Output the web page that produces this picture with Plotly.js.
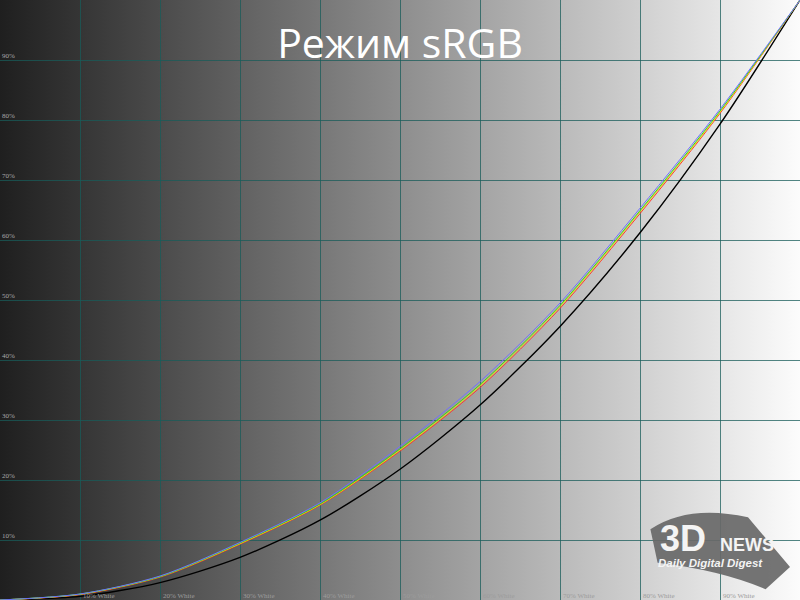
<!DOCTYPE html>
<html>
<head>
<meta charset="utf-8">
<script src="https://cdn.plot.ly/plotly-3.0.1.min.js"></script>
<style>
  html, body { margin: 0; padding: 0; background: #ffffff; }
  #chart { width: 800px; height: 600px; background: linear-gradient(to right, #1f1f1f, #fcfcfc); }
</style>
</head>
<body>
<div id="chart"></div>
<script>
// Input signal level, % white
const xPct = [0, 10, 20, 30, 40, 50, 60, 70, 80, 90, 100];
// Reference gamma curve (black)
const refGamma = [0, 0.6, 2.9, 7.1, 13.3, 21.8, 32.5, 45.6, 61.2, 79.3, 100];
// Measured channel curves
const redCh    = [0, 0.9, 3.8, 9.3, 15.8, 24.8, 35.4, 48.6, 64.4, 81.1, 100];
const yellowCh = [0, 0.95, 3.9, 9.4, 15.9, 25.0, 35.7, 48.9, 64.7, 81.3, 100];
const greenCh  = [0, 1.0, 3.9, 9.5, 16.0, 25.2, 35.9, 49.1, 64.9, 81.5, 100];
const blueCh   = [0, 1.0, 4.0, 9.6, 16.2, 25.6, 36.4, 49.5, 65.3, 81.8, 100];

const tickVals = [10, 20, 30, 40, 50, 60, 70, 80, 90];
const yTickText = ['10%', '20%', '30%', '40%', '50%', '60%', '70%', '80%', '90%'];
const xTickText = ['10% White', '20% White', '30% White', '40% White', '50% White', '60% White', '70% White', '80% White', '90% White'];

const titleText = 'Режим sRGB';

function curve(y, color, width, name) {
  return { x: xPct, y: y, type: 'scatter', mode: 'lines', name: name,
           line: { color: color, width: width, shape: 'spline', smoothing: 0.8 },
           hoverinfo: 'skip' };
}

const data = [
  curve(refGamma, '#000000', 1.4, 'Gamma 2.2'),
  curve(redCh, '#ff3b2f', 1, 'Red'),
  curve(yellowCh, '#e8e800', 1, 'Yellow'),
  curve(greenCh, '#33cc33', 1, 'Green'),
  curve(blueCh, '#6f6fff', 1, 'Blue')
];

const gridColor = 'rgba(24,92,90,0.75)';
const tickFont = { family: 'Liberation Serif, Times New Roman, serif', size: 7, color: '#a8a8a8' };

const xLabelAnnotations = tickVals.map((v, i) => ({
  xref: 'x', yref: 'paper', x: v, y: 0, xanchor: 'left', yanchor: 'bottom',
  xshift: 1, yshift: -2, text: xTickText[i], showarrow: false,
  font: { family: 'Liberation Serif, Times New Roman, serif', size: 7, color: '#9c9c9c' }
}));

const layout = {
  width: 800, height: 600,
  margin: { l: 0, r: 0, t: 0, b: 0, pad: 0 },
  paper_bgcolor: 'rgba(0,0,0,0)',
  plot_bgcolor: 'rgba(0,0,0,0)',
  showlegend: false,
  title: { text: titleText, x: 0.5, xanchor: 'center', y: 0.928, yanchor: 'middle',
           font: { family: 'Open Sans, sans-serif', size: 41, color: '#ffffff' } },
  xaxis: {
    range: [0, 100], tickmode: 'array', tickvals: tickVals,
    showgrid: true, gridcolor: gridColor, gridwidth: 1,
    zeroline: false, showline: true, linecolor: gridColor, mirror: false,
    ticks: '', showticklabels: false, fixedrange: true
  },
  yaxis: {
    range: [0, 100], tickmode: 'array', tickvals: tickVals, ticktext: yTickText,
    showgrid: true, gridcolor: gridColor, gridwidth: 1,
    zeroline: false, showline: true, linecolor: gridColor, mirror: false,
    ticks: '', ticklabelposition: 'inside top', tickfont: tickFont, fixedrange: true
  },
  shapes: [
    { type: 'path', xref: 'paper', yref: 'paper', layer: 'above',
      path: 'M 0.813 0.118 Q 0.86 0.16 0.935 0.138 L 0.9875 0.055 L 0.957 0.018 Q 0.9 0.05 0.822 0.062 Z',
      fillcolor: 'rgba(104,104,104,0.92)', line: { width: 0 } }
  ],
  annotations: xLabelAnnotations.concat([
    { xref: 'paper', yref: 'paper', x: 0.822, y: 1 - 538 / 600, xanchor: 'left', yanchor: 'middle',
      text: '<b>3D</b>', showarrow: false,
      font: { family: 'Liberation Sans, Arial, sans-serif', size: 36, color: '#f4f4f4' } },
    { xref: 'paper', yref: 'paper', x: 0.897, y: 1 - 545 / 600, xanchor: 'left', yanchor: 'middle',
      text: '<b>NEWS</b>', showarrow: false,
      font: { family: 'Liberation Sans, Arial, sans-serif', size: 18, color: '#f4f4f4' } },
    { xref: 'paper', yref: 'paper', x: 0.82, y: 1 - 563 / 600, xanchor: 'left', yanchor: 'middle',
      text: '<b><i>Daily Digital Digest</i></b>', showarrow: false,
      font: { family: 'Liberation Sans, Arial, sans-serif', size: 11.5, color: '#f4f4f4' } }
  ])
};

Plotly.newPlot('chart', data, layout, { displayModeBar: false, staticPlot: true });
</script>
</body>
</html>
